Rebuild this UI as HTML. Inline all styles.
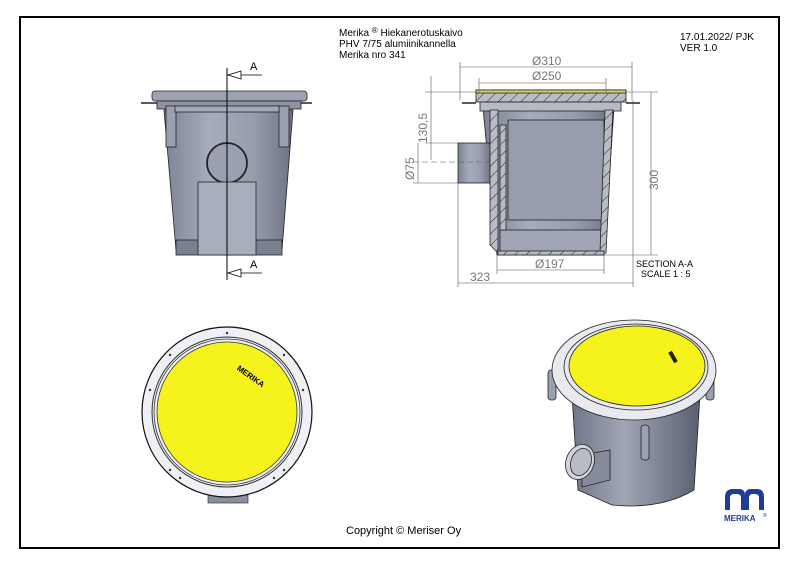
<!DOCTYPE html>
<html><head><meta charset="utf-8">
<style>
html,body{margin:0;padding:0;background:#fff;}
svg{display:block;}
text{font-family:"Liberation Sans","DejaVu Sans",sans-serif;}
</style></head>
<body>
<svg width="800" height="566" viewBox="0 0 800 566" xmlns="http://www.w3.org/2000/svg">
<defs>
<linearGradient id="g" x1="0" x2="1" y1="0" y2="0">
<stop offset="0" stop-color="#7d8393"/><stop offset="0.35" stop-color="#a6acbb"/><stop offset="0.7" stop-color="#969cab"/><stop offset="1" stop-color="#6c7282"/>
</linearGradient>
<linearGradient id="g3" x1="0" x2="1" y1="0" y2="0">
<stop offset="0" stop-color="#70768a"/><stop offset="0.4" stop-color="#a0a6b4"/><stop offset="1" stop-color="#5a6070"/>
</linearGradient>
<pattern id="h" width="8" height="8" patternUnits="userSpaceOnUse" patternTransform="rotate(45)">
<rect width="8" height="8" fill="#b8bcc4"/><line x1="0" y1="0" x2="0" y2="8" stroke="#222" stroke-width="1"/>
</pattern>
</defs>
<rect x="20" y="17" width="759" height="531" fill="none" stroke="#000" stroke-width="2"/>

<!-- title -->
<text x="339" y="36" font-size="10">Merika <tspan font-size="8" dy="-3">®</tspan><tspan dy="3"> Hiekanerotuskaivo</tspan></text>
<text x="339" y="47" font-size="10">PHV 7/75 alumiinikannella</text>
<text x="339" y="58" font-size="10">Merika nro  341</text>
<text x="680" y="40" font-size="10">17.01.2022/ PJK</text>
<text x="680" y="51" font-size="10">VER 1.0</text>

<!-- front view -->
<g stroke="#222" stroke-width="0.8">
<path d="M164 110 L293 110 L282 250 L176 250 Z" fill="url(#g)"/>
<rect x="176" y="240" width="106" height="15" fill="#7a8090"/>
<rect x="152" y="91" width="155" height="10" rx="3" fill="#9ca2b2"/>
<line x1="141" y1="103" x2="312" y2="103" stroke-width="1.5"/>
<rect x="157" y="101" width="144" height="8" fill="#8d93a3"/>
<rect x="166" y="106" width="10" height="41" fill="#9aa0b0"/>
<rect x="279" y="106" width="10" height="41" fill="#9aa0b0"/>
<rect x="175" y="106" width="104" height="6" fill="#a4aab8"/>
<circle cx="227" cy="163" r="20" fill="#9aa0b0" stroke-width="1.8"/>
<rect x="198" y="182" width="58" height="73" fill="#a8aebc"/>
</g>
<line x1="227" y1="68" x2="227" y2="280" stroke="#000" stroke-width="1"/>
<g stroke="#000" fill="none" stroke-width="0.8">
<line x1="227" y1="75" x2="262" y2="75"/><path d="M228 75 L241 71 L241 79 Z" fill="#fff"/>
<line x1="227" y1="273" x2="262" y2="273"/><path d="M228 273 L241 269 L241 277 Z" fill="#fff"/>
</g>
<text x="250" y="70" font-size="11">A</text>
<text x="250" y="268" font-size="11">A</text>

<!-- section view -->
<g stroke="#222" stroke-width="0.8">
<path d="M483 108 L614 108 L604 255 L497 255 Z" fill="url(#g)"/>
<rect x="458" y="143" width="33" height="40" fill="url(#g)"/>
<rect x="476" y="90" width="150" height="12" fill="url(#h)"/>
<rect x="476" y="90" width="150" height="3" fill="#d8d46a"/>
<rect x="480" y="102" width="141" height="9" fill="#b7bac0"/>
<rect x="508" y="120" width="96" height="100" fill="#979dac"/>
<rect x="500" y="230" width="104" height="22" fill="#a0a6b4"/>
<path d="M490 110 L498 110 L498 253 L490 245 Z" fill="url(#h)"/>
<path d="M605 110 L613 110 L606 253 L600 253 Z" fill="url(#h)"/>
<rect x="500" y="125" width="6" height="105" fill="url(#h)"/>
<rect x="498" y="251" width="106" height="4" fill="url(#h)"/>
<line x1="462" y1="103" x2="476" y2="103" stroke-width="1.5"/>
<line x1="626" y1="103" x2="640" y2="103" stroke-width="1.5"/>
</g>
<g stroke="#555" stroke-width="0.6" fill="none">
<line x1="460" y1="62" x2="460" y2="100"/><line x1="632" y1="62" x2="632" y2="100"/>
<line x1="460" y1="67" x2="632" y2="67"/>
<line x1="479" y1="78" x2="479" y2="92"/><line x1="606" y1="78" x2="606" y2="92"/>
<line x1="479" y1="83" x2="606" y2="83"/>
<line x1="626" y1="92" x2="658" y2="92"/><line x1="604" y1="255" x2="658" y2="255"/>
<line x1="651" y1="92" x2="651" y2="255"/>
<line x1="425" y1="92" x2="476" y2="92"/><line x1="425" y1="143" x2="458" y2="143"/>
<line x1="431" y1="76" x2="431" y2="160"/>
<line x1="413" y1="183" x2="458" y2="183"/><line x1="413" y1="162" x2="490" y2="162" stroke-dasharray="6 3"/>
<line x1="418" y1="143" x2="418" y2="183"/>
<line x1="497" y1="255" x2="497" y2="274"/><line x1="604" y1="255" x2="604" y2="274"/>
<line x1="497" y1="270" x2="604" y2="270"/>
<line x1="458" y1="183" x2="458" y2="287"/><line x1="633" y1="100" x2="633" y2="287"/>
<line x1="458" y1="283" x2="633" y2="283"/>
</g>
<g fill="#777" font-size="12">
<text x="532" y="65">Ø310</text>
<text x="532" y="80">Ø250</text>
<text x="535" y="268">Ø197</text>
<text x="470" y="281">323</text>
<text transform="translate(427,143) rotate(-90)">130,5</text>
<text transform="translate(414,180) rotate(-90)">Ø75</text>
<text transform="translate(658,190) rotate(-90)">300</text>
</g>
<text x="636" y="267" font-size="9">SECTION A-A</text>
<text x="641" y="277" font-size="9">SCALE 1 : 5</text>

<!-- top view -->
<rect x="208" y="495" width="40" height="8" fill="#8a90a0" stroke="#222" stroke-width="0.6"/>
<circle cx="227" cy="412" r="85" fill="#eef0f5" stroke="#111" stroke-width="1.2"/>
<circle cx="227" cy="412" r="75" fill="none" stroke="#333" stroke-width="1"/>
<circle cx="227" cy="412" r="73" fill="none" stroke="#333" stroke-width="0.8"/>
<circle cx="227" cy="412" r="70" fill="#f6f21c" stroke="#333" stroke-width="0.8"/>
<text x="233" y="376" font-size="8" font-weight="bold" transform="rotate(35 245 378)">MERIKA</text>
<g fill="#333">
<circle cx="227" cy="333" r="1.2"/><circle cx="170" cy="355" r="1.2"/><circle cx="284" cy="355" r="1.2"/>
<circle cx="150" cy="390" r="1.2"/><circle cx="303" cy="390" r="1.2"/><circle cx="170" cy="470" r="1.2"/>
<circle cx="284" cy="470" r="1.2"/><circle cx="180" cy="478" r="1.2"/><circle cx="274" cy="478" r="1.2"/>
</g>

<!-- 3D view -->
<g stroke="#222" stroke-width="0.8">
<path d="M572 395 L700 395 L694 490 Q660 510 612 505 L578 490 Z" fill="url(#g3)"/>
<rect x="548" y="370" width="8" height="30" rx="3" fill="#9aa0b0"/>
<rect x="706" y="370" width="8" height="30" rx="3" fill="#9aa0b0"/>
<rect x="641" y="425" width="8" height="35" rx="3" fill="#9aa0b0"/>
<ellipse cx="634" cy="370" rx="82" ry="50" fill="#e8eaf0"/>
<ellipse cx="636" cy="367" rx="72" ry="43" fill="none"/>
<ellipse cx="637" cy="366" rx="68" ry="40" fill="#f6f21c"/>
<path d="M582 455 L610 450 L610 480 L582 487 Z" fill="#858b9a"/>
<ellipse cx="580" cy="462" rx="14" ry="18" fill="#d0d3da" transform="rotate(20 580 462)"/>
<ellipse cx="581" cy="462" rx="10" ry="14" fill="#b8bcc6" transform="rotate(20 581 462)"/>
</g>
<rect x="667" y="355" width="12" height="4" fill="#222" transform="rotate(60 673 357)"/>

<!-- logo -->
<g fill="#1f3c96">
<path d="M725 510 L725 497 Q725 489 733 489 L739 489 Q745 489 745 495 Q745 489 751 489 L757 489 Q764 489 764 497 L764 510 L759 510 L759 498 Q759 494 755 494 L753 494 Q749 494 749 498 L749 510 L741 510 L741 498 Q741 494 737 494 L734 494 Q730 494 730 498 L730 510 Z"/>
</g>
<text x="724" y="521" font-size="8" font-weight="bold" fill="#1f3c96">MERIKA</text>
<text x="763" y="517" font-size="5" fill="#1f3c96">®</text>

<text x="346" y="534" font-size="11">Copyright © Meriser Oy</text>
</svg>
</body></html>
